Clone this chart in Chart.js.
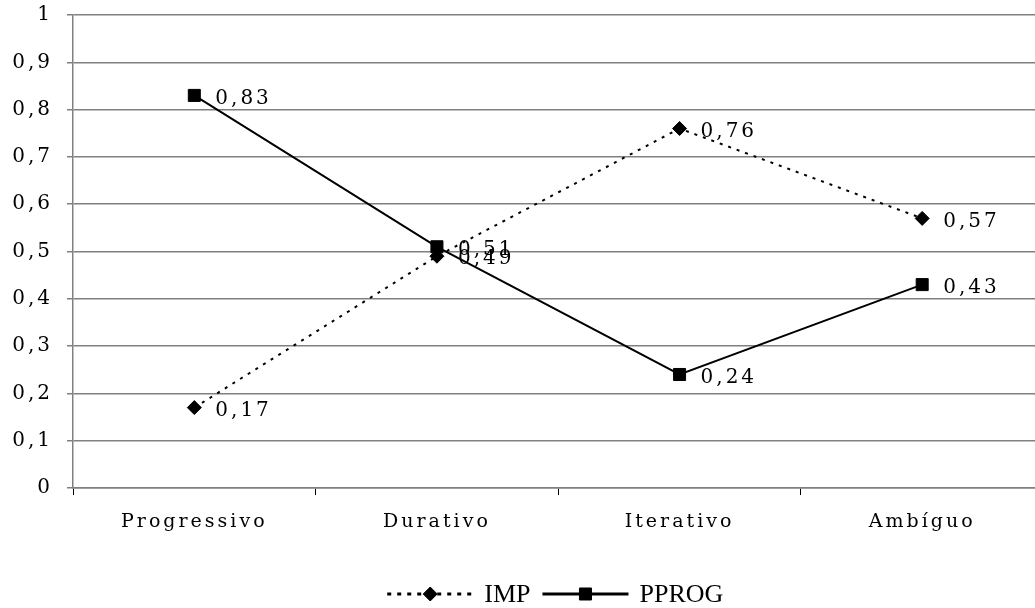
<!DOCTYPE html>
<html>
<head>
<meta charset="utf-8">
<script src="https://cdn.jsdelivr.net/npm/chart.js@4/dist/chart.umd.min.js"></script>
<style>
html, body { margin: 0; padding: 0; overflow: hidden; background: #fff; }
#wrap { width: 1053px; height: 608px; position: relative; }
</style>
</head>
<body>
<div id="wrap"><canvas id="grafico" width="1053" height="608"></canvas></div>
<script>
// Dados
const categorias = ['Progressivo', 'Durativo', 'Iterativo', 'Ambíguo'];
const valoresIMP = [0.17, 0.49, 0.76, 0.57];
const valoresPPROG = [0.83, 0.51, 0.24, 0.43];
const ticksY = [0, 0.1, 0.2, 0.3, 0.4, 0.5, 0.6, 0.7, 0.8, 0.9, 1];

const virgula = v => String(Math.round(v * 100) / 100).replace('.', ',');

// espaçamento das letras nos eixos
const espaco = {
  id: 'espaco',
  beforeDraw(chart) { chart.ctx.letterSpacing = '3px'; }
};

// rótulos de valor à direita de cada ponto
const rotulos = {
  id: 'rotulos',
  afterDatasetsDraw(chart) {
    const ctx = chart.ctx;
    ctx.save();
    ctx.font = '20px "DejaVu Serif"';
    ctx.letterSpacing = '3px';
    ctx.fillStyle = '#000';
    ctx.textAlign = 'left';
    ctx.textBaseline = 'middle';
    chart.data.datasets.forEach((ds, i) => {
      chart.getDatasetMeta(i).data.forEach((pt, j) => {
        ctx.fillText(virgula(ds.data[j]), pt.x + 21, pt.y + 3);
      });
    });
    ctx.restore();
  }
};

// legenda embaixo, linha + marcador + texto
const legenda = {
  id: 'legenda',
  afterDraw(chart) {
    const { ctx, chartArea } = chart;
    ctx.save();
    ctx.letterSpacing = '0px';
    ctx.font = '26px "Liberation Serif"';
    ctx.textAlign = 'left';
    ctx.textBaseline = 'middle';
    const y = chart.height - 14;
    const linha = 86, gapT = 11, gapE = 12;
    const itens = chart.data.datasets.map(ds => ({ ds, w: ctx.measureText(ds.label).width }));
    const total = itens.reduce((s, it) => s + linha + gapT + it.w, 0) + gapE * (itens.length - 1);
    let x = (chartArea.left + chartArea.right) / 2 - total / 2 - 3;
    itens.forEach(({ ds, w }) => {
      ctx.beginPath();
      ctx.setLineDash(ds.borderDash.length ? [4, 6] : []);
      ctx.lineWidth = 3;
      ctx.strokeStyle = '#000';
      ctx.moveTo(x, y);
      ctx.lineTo(x + linha, y);
      ctx.stroke();
      ctx.setLineDash([]);
      ctx.fillStyle = '#000';
      ctx.lineWidth = 1;
      Chart.helpers.drawPoint(ctx, { pointStyle: ds.pointStyle, radius: ds.pointRadius, borderWidth: 1, rotation: 0 }, x + linha / 2, y);
      ctx.fillStyle = '#000';
      ctx.fillText(ds.label, x + linha + gapT, y + 1);
      x += linha + gapT + w + gapE;
    });
    ctx.restore();
  }
};

new Chart(document.getElementById('grafico'), {
  type: 'line',
  data: {
    labels: categorias,
    datasets: [{
      label: 'IMP',
      data: valoresIMP,
      borderColor: '#000',
      backgroundColor: '#000',
      borderWidth: 2,
      borderDash: [3, 6],
      pointStyle: 'rectRot',
      pointRadius: 7,
      pointBorderWidth: 1,
      tension: 0
    }, {
      label: 'PPROG',
      data: valoresPPROG,
      borderColor: '#000',
      backgroundColor: '#000',
      borderWidth: 2,
      borderDash: [],
      pointStyle: 'rect',
      pointRadius: 8.5,
      pointBorderWidth: 1,
      tension: 0
    }]
  },
  options: {
    responsive: false,
    animation: false,
    layout: { padding: { top: 15, right: 0, bottom: 60, left: 0 } },
    plugins: {
      legend: { display: false },
      tooltip: { enabled: false }
    },
    scales: {
      x: {
        offset: true,
        afterFit(scale) {
          scale.height = 60;
          scale.paddingLeft = 0;
          scale.paddingRight = 0;
        },
        grid: {
          offset: true,
          drawOnChartArea: false,
          tickLength: 7,
          color: '#000',
          lineWidth: 1
        },
        border: { color: '#808080', width: 1.5 },
        ticks: {
          color: '#000',
          padding: 16,
          font: { family: '"DejaVu Serif"', size: 19 }
        }
      },
      y: {
        min: 0,
        max: 1,
        afterFit(scale) {
          scale.width = 73;
          scale.paddingTop = 0;
          scale.paddingBottom = 0;
        },
        afterBuildTicks(scale) { scale.ticks = ticksY.map(v => ({ value: v })); },
        grid: { color: '#808080', lineWidth: 1.5, tickLength: 6 },
        border: { color: '#808080', width: 1.5 },
        ticks: {
          color: '#000',
          padding: 14,
          font: { family: '"DejaVu Serif"', size: 20 },
          callback: v => virgula(v)
        }
      }
    }
  },
  plugins: [espaco, rotulos, legenda]
});
</script>
</body>
</html>
